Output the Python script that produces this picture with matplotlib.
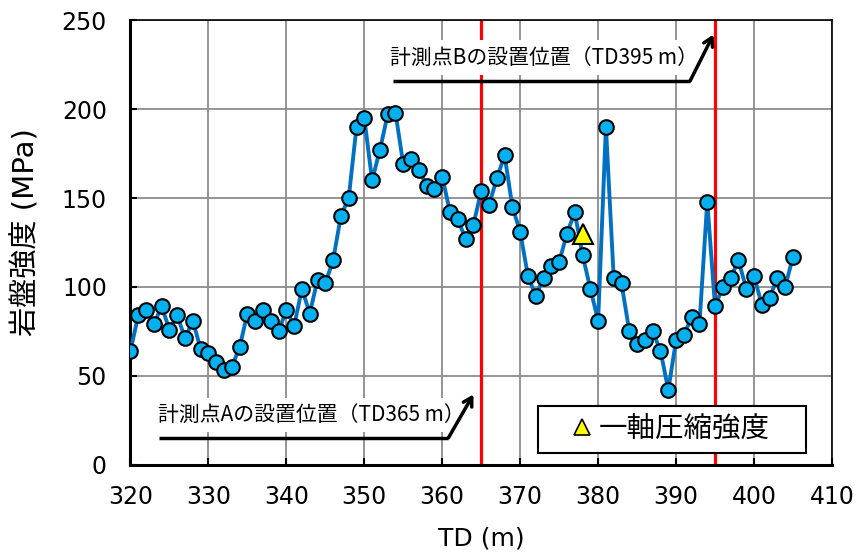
import matplotlib
matplotlib.use("Agg")
import matplotlib.pyplot as plt
from matplotlib.lines import Line2D

plt.rcParams['font.family'] = ['DejaVu Sans', 'Noto Sans CJK JP']

# 岩盤強度（TD 320～405 m, 1 m ピッチ）
td = list(range(320, 406))
strength = [
    64, 84, 87, 79, 89, 76, 84, 71, 81, 65,
    63, 58, 53, 55, 66, 85, 81, 87, 81, 75,
    87, 78, 99, 85, 104, 102, 115, 140, 150, 190,
    195, 160, 177, 197, 198, 169, 172, 166, 157, 155,
    162, 142, 138, 127, 135, 154, 146, 161, 174, 145,
    131, 106, 95, 105, 112, 114, 130, 142, 118, 99,
    81, 190, 105, 102, 75, 68, 70, 75, 64, 42,
    70, 73, 83, 79, 148, 89, 100, 105, 115, 99,
    106, 90, 94, 105, 100, 117,
]

# 一軸圧縮強度
ucs_td = [378]
ucs_val = [130]

# 計測点の設置位置
points_td = [365, 395]

fig = plt.figure(figsize=(8.6, 5.58), dpi=100)
ax = fig.add_axes([0.1517, 0.1674, 0.8157, 0.7962])

ax.set_xlim(320, 410)
ax.set_ylim(0, 250)
ax.set_xticks(range(320, 411, 10))
ax.set_yticks(range(0, 251, 50))
ax.grid(True, color='#8c8c8c', linewidth=1.3)
ax.set_axisbelow(True)
ax.tick_params(direction='in', length=5, width=1.5, labelsize=17)
ax.tick_params(axis='x', pad=15)
ax.tick_params(axis='y', pad=17)
for sp in ax.spines.values():
    sp.set_linewidth(1.2)
ax.spines['left'].set_linewidth(2.2)
ax.spines['bottom'].set_linewidth(2.2)

for x in points_td:
    ax.axvline(x, color='red', linewidth=2.3, zorder=2)

ax.plot(td, strength, '-o', color='#0070C0', linewidth=2.8,
        markersize=10.5, markerfacecolor='#00B0F0',
        markeredgecolor='black', markeredgewidth=1.5, zorder=4)
ax.plot(ucs_td, ucs_val, '^', markersize=15, markerfacecolor='#FFFF00',
        markeredgecolor='black', markeredgewidth=1.5, zorder=5)

# 計測点の注記（折れ線付き矢印）
notes = [
    # (text, text x, text y, line start x, bend x, line y, tip x, tip y)
    ('計測点Aの設置位置（TD365 m）', 323.5, 28.0, 323.6, 360.8, 15.1, 364.0, 39.5),
    ('計測点Bの設置位置（TD395 m）', 353.3, 229.0, 353.7, 391.8, 215.9, 394.8, 242.0),
]
for text, tx, ty, x0, xb, yl, xt, yt in notes:
    ax.text(tx, ty, text, fontsize=15, va='center', ha='left', zorder=6,
            family=['Noto Sans CJK JP', 'DejaVu Sans'],
            bbox=dict(boxstyle='square,pad=0.3', facecolor='white',
                      edgecolor='none'))
    ax.plot([x0, xb], [yl, yl], color='black', linewidth=2.5,
            solid_capstyle='butt', zorder=7)
    ax.annotate('', xy=(xt, yt), xytext=(xb, yl), zorder=7,
                arrowprops=dict(arrowstyle='->,head_length=0.6,head_width=0.35',
                                color='black', linewidth=2.5,
                                shrinkA=0, shrinkB=0))

handle = Line2D([], [], linestyle='none', marker='^', markersize=12,
                markerfacecolor='#FFFF00', markeredgecolor='black',
                markeredgewidth=1.2)
leg = ax.legend([handle], ['一軸圧縮強度'], loc='lower left',
                bbox_to_anchor=(0.581, 0.0268, 0.382, 0.2), mode='expand',
                prop={'family': ['Noto Sans CJK JP'], 'size': 20.5},
                fancybox=False, framealpha=1, edgecolor='black',
                handlelength=2.48, handletextpad=-0.66, borderpad=0.3,
                borderaxespad=0)
leg.get_frame().set_linewidth(1.5)
leg.set_zorder(8)

ax.set_xlabel('TD (m)', fontsize=18)
ax.set_ylabel('岩盤強度 (MPa)', fontsize=21)
ax.xaxis.set_label_coords(0.5, -0.14)
ax.yaxis.set_label_coords(-0.1276, 0.5235)

fig.savefig('out.png', dpi=100)
